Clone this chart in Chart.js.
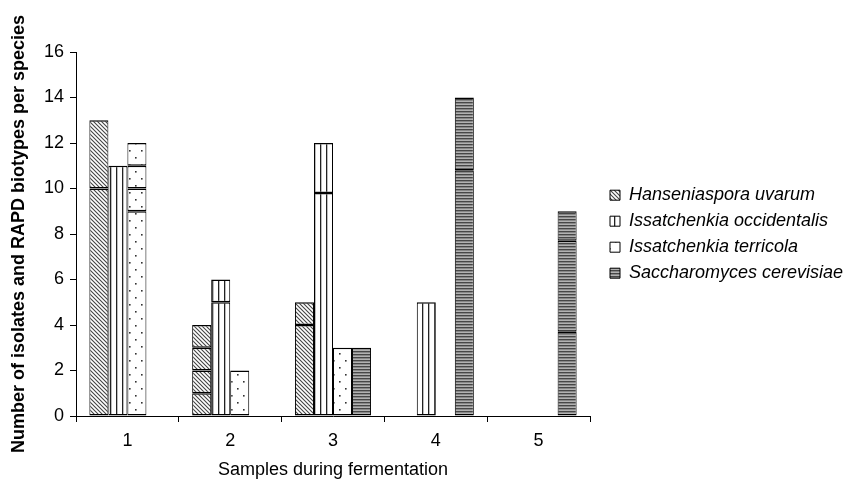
<!DOCTYPE html>
<html>
<head>
<meta charset="utf-8">
<script src="https://cdn.jsdelivr.net/npm/chart.js@4"></script>
<style>
  html, body { margin: 0; padding: 0; background: #fff; }
  #wrap { width: 849px; height: 481px; }
</style>
</head>
<body>
<div id="wrap"><canvas id="c" width="849" height="481"></canvas></div>
<script>
// ---- data ----
const samples = ['1', '2', '3', '4', '5'];
// each inner list: sizes of RAPD biotype groups (stacked) per sample
const hanseniasporaUvarum      = [[10, 3], [1, 1, 1, 1], [4, 1], [], []];
const issatchenkiaOccidentalis = [[11], [5, 1], [9.8, 2.2], [5], []];
const issatchenkiaTerricola    = [[9, 1, 1, 1], [2], [3], [], []];
const saccharomycesCerevisiae  = [[], [], [3], [10.8, 3.2], [3.7, 4, 1.3]];
const speciesNames = ['Hanseniaspora uvarum', 'Issatchenkia occidentalis', 'Issatchenkia terricola', 'Saccharomyces cerevisiae'];
const yMin = 0, yMax = 16, yStep = 2;

// ---- fill patterns ----
function makePattern(w, h, draw) {
  const c = document.createElement('canvas');
  c.width = w; c.height = h;
  const x = c.getContext('2d');
  x.fillStyle = '#fff'; x.fillRect(0, 0, w, h);
  draw(x, w, h);
  return document.getElementById('c').getContext('2d').createPattern(c, 'repeat');
}
const patDiag = makePattern(4, 4, (x) => {
  x.strokeStyle = '#444'; x.lineWidth = 1.1;
  x.beginPath();
  x.moveTo(-1, -1); x.lineTo(5, 5);
  x.moveTo(-1, 3); x.lineTo(1, 5);
  x.moveTo(3, -1); x.lineTo(5, 1);
  x.stroke();
});
const patVert = makePattern(6, 4, (x) => {
  x.fillStyle = '#222'; x.fillRect(2, 0, 1.3, 4);
});
const patDots = makePattern(12, 14, (x) => {
  x.fillStyle = '#333';
  x.fillRect(3, 3, 1.6, 1.6);
  x.fillRect(9, 10, 1.6, 1.6);
});
const patHoriz = makePattern(4, 3, (x) => {
  x.fillStyle = '#474747'; x.fillRect(0, 0, 4, 1);
  x.fillStyle = '#888888'; x.fillRect(0, 1, 4, 1);
  x.fillStyle = '#b2b2b2'; x.fillRect(0, 2, 4, 1);
});
const patterns = [patDiag, patVert, patDots, patHoriz];
const speciesData = [hanseniasporaUvarum, issatchenkiaOccidentalis, issatchenkiaTerricola, saccharomycesCerevisiae];

// ---- build stacked datasets: one stack per species, one dataset per biotype level ----
const datasets = [];
speciesData.forEach((arr, si) => {
  const levels = Math.max(...arr.map(a => a.length));
  for (let k = 0; k < levels; k++) {
    datasets.push({
      label: speciesNames[si] + ' ' + (k + 1),
      stack: 's' + si,
      yAxisID: 'y',
      data: arr.map(a => (a[k] !== undefined ? a[k] : null)),
      backgroundColor: patterns[si],
      borderColor: '#000',
      borderWidth: { top: 1.5, bottom: 1.5, left: 1, right: 1 },
      borderSkipped: false,
      inflateAmount: 0,
      categoryPercentage: 0.74,
      barPercentage: 1.0
    });
  }
});

const FONT = "'Liberation Sans', Arial, Helvetica, sans-serif";

new Chart(document.getElementById('c'), {
  type: 'bar',
  data: { labels: samples, datasets },
  options: {
    responsive: false,
    animation: false,
    devicePixelRatio: 1,
    layout: { padding: { top: 52, right: 0, bottom: 0, left: 0 } },
    plugins: {
      tooltip: { enabled: false },
      legend: {
        position: 'right',
        align: 'start',
        maxWidth: 247,
        onClick: null,
        title: { display: true, text: ' ', font: { size: 1 }, padding: { top: 125, bottom: 0 } },
        labels: {
          boxWidth: 10,
          boxHeight: 10,
          padding: 8,
          color: '#000',
          font: { family: FONT, size: 18, style: 'italic' },
          generateLabels: () => speciesNames.map((n, i) => ({
            text: n,
            fillStyle: patterns[i],
            strokeStyle: '#000',
            fontColor: '#000',
            lineWidth: 1,
            hidden: false,
            datasetIndex: i
          }))
        }
      }
    },
    scales: {
      x: {
        stacked: true,
        offset: true,
        grid: { display: true, offset: true, drawOnChartArea: false, color: '#000', tickLength: 6, tickColor: '#000' },
        border: { display: true, color: '#000', width: 1 },
        ticks: { color: '#000', font: { family: FONT, size: 18 }, padding: 8 },
        title: { display: true, text: 'Samples during fermentation', color: '#000', font: { family: FONT, size: 18 }, padding: { top: 4, bottom: 0 } },
        afterFit: (s) => { s.height = 65; }
      },
      y: {
        stacked: true,
        min: yMin, max: yMax,
        grid: { display: true, drawOnChartArea: false, color: '#000', tickLength: 6, tickColor: '#000' },
        border: { display: true, color: '#000', width: 1 },
        ticks: { stepSize: yStep, color: '#000', font: { family: FONT, size: 18 }, padding: 6 },
        title: { display: true, text: 'Number of isolates and RAPD biotypes per species', color: '#000', font: { family: FONT, size: 18, weight: 'bold' }, padding: { top: 8, bottom: 0 } },
        afterFit: (s) => { s.width = 76; }
      },
      gap: {
        type: 'linear',
        position: 'right',
        display: true,
        grid: { display: false },
        border: { display: false },
        ticks: { display: false },
        afterFit: (s) => { s.width = 12; }
      }
    }
  }
});
</script>
</body>
</html>
